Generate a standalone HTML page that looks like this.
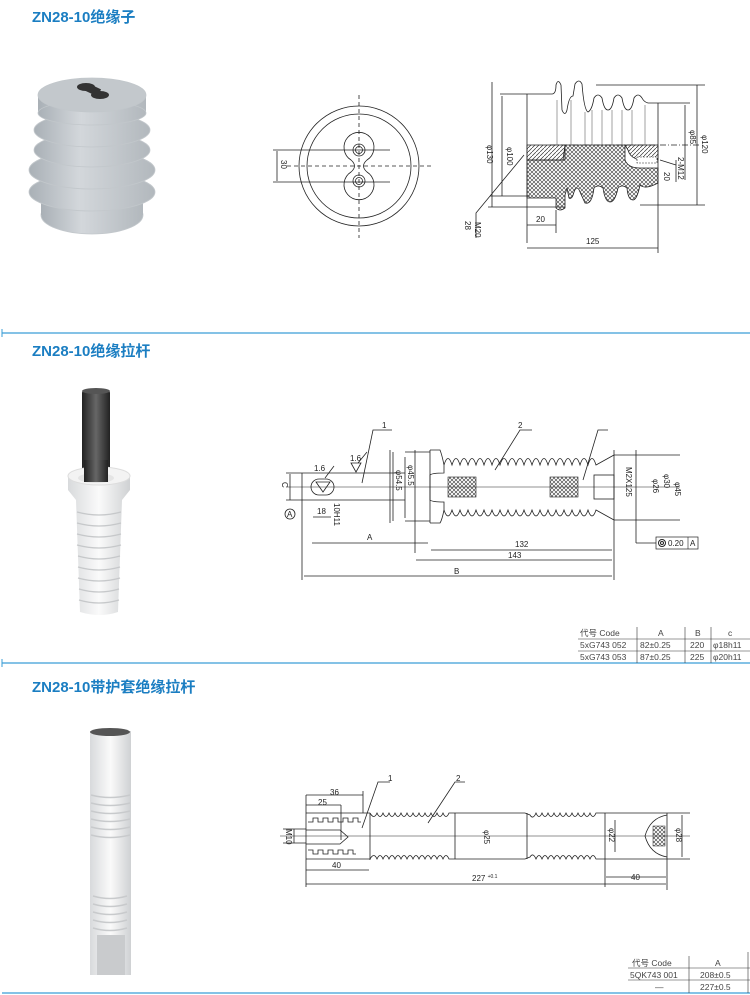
<!DOCTYPE html>
<html><head><meta charset="utf-8"><style>
html,body{margin:0;padding:0;background:#fff;}
svg{display:block;}
.t{font-family:"Liberation Sans","Noto Sans CJK SC",sans-serif;font-weight:bold;fill:#1b7ec2;font-size:15px;}
.d{font-family:"Liberation Sans",sans-serif;font-size:8px;fill:#222;}
.k{stroke:#222;stroke-width:0.8;fill:none;}
</style></head><body>
<svg width="750" height="995" viewBox="0 0 750 995" xmlns="http://www.w3.org/2000/svg">
<defs>
<pattern id="x" width="4" height="4" patternUnits="userSpaceOnUse"><path d="M0 0L4 4M4 0L0 4" stroke="#333" stroke-width="0.6"/></pattern>
<pattern id="h" width="4" height="4" patternUnits="userSpaceOnUse"><path d="M0 4L4 0" stroke="#333" stroke-width="0.7"/></pattern>
<linearGradient id="g1" x1="0" x2="1"><stop offset="0" stop-color="#a9b0b6"/><stop offset="0.4" stop-color="#d3d7db"/><stop offset="1" stop-color="#b2b8bd"/></linearGradient>
<linearGradient id="g2" x1="0" x2="1"><stop offset="0" stop-color="#d8dadc"/><stop offset="0.5" stop-color="#fafafa"/><stop offset="1" stop-color="#cfd1d3"/></linearGradient>
<linearGradient id="g3" x1="0" x2="1"><stop offset="0" stop-color="#222"/><stop offset="0.5" stop-color="#666"/><stop offset="1" stop-color="#222"/></linearGradient>
</defs>

<text class="t" x="32" y="22">ZN28-10绝缘子</text>
<text class="t" x="32" y="356">ZN28-10绝缘拉杆</text>
<text class="t" x="32" y="692">ZN28-10带护套绝缘拉杆</text>
<line x1="2" y1="333" x2="750" y2="333" stroke="#3a9dd6" stroke-width="1.2"/>
<line x1="2" y1="663" x2="750" y2="663" stroke="#3a9dd6" stroke-width="1.2"/>
<line x1="2" y1="993" x2="750" y2="993" stroke="#3a9dd6" stroke-width="1.2"/>
<line x1="2" y1="329" x2="2" y2="337" stroke="#3a9dd6"/><line x1="2" y1="659" x2="2" y2="667" stroke="#3a9dd6"/>

<!-- photo 1 insulator -->
<g fill="url(#g1)" stroke="#c2c7cb" stroke-width="0.8">
<ellipse cx="92" cy="215" rx="51" ry="19"/>
<rect x="41" y="200" width="102" height="15" stroke="none"/>
<ellipse cx="92" cy="192" rx="63" ry="19"/>
<ellipse cx="92" cy="170" rx="63" ry="19"/>
<ellipse cx="92" cy="150" rx="58" ry="17"/>
<ellipse cx="92" cy="130" rx="58" ry="17"/>
<rect x="38" y="95" width="108" height="18" stroke="none"/>
<ellipse cx="92" cy="113" rx="54" ry="12"/>
<ellipse cx="92" cy="95" rx="54" ry="17" fill="#c3c8cc"/>
</g>
<ellipse cx="86" cy="87" rx="9" ry="4" fill="#333"/><ellipse cx="100" cy="95" rx="9" ry="4" fill="#333"/>
<rect x="86" y="86" width="14" height="8" fill="#333" transform="rotate(25 93 90)"/>

<g class="k">
<circle cx="359" cy="166" r="60"/><circle cx="359" cy="166" r="52"/>
<path d="M351 160 A15 15 0 1 1 367 160 Q360 166 367 172 A15 15 0 1 1 351 172 Q358 166 351 160Z"/>
<circle cx="359" cy="150" r="6"/><circle cx="359" cy="150" r="3.5"/>
<circle cx="359" cy="181" r="6"/><circle cx="359" cy="181" r="3.5"/>
<line x1="359" y1="95" x2="359" y2="238" stroke-dasharray="4 3"/>
<line x1="287" y1="166" x2="432" y2="166" stroke-dasharray="4 3"/>
<line x1="273" y1="150" x2="390" y2="150"/><line x1="273" y1="182" x2="390" y2="182"/>
<line x1="277" y1="151" x2="277" y2="181"/>
</g>
<text class="d" transform="translate(281,160) rotate(90)">30</text>

<g class="k">
<path d="M500 94 L552 94 Q556 94 556 85 Q558 78 561 85 L562 110 Q565 117 567 110 Q569 96 573 96 L575 84 Q579 78 582 84 Q584 110 588 112 Q592 110 594 98 Q598 92 602 98 Q604 110 608 110 Q612 110 614 98 Q618 92 622 98 Q624 110 628 110 Q632 110 634 98 Q638 92 642 98 Q644 102 648 103 L690 103"/>
<path d="M596 85 L705 85"/>
<line x1="527" y1="94" x2="527" y2="243"/><line x1="658" y1="103" x2="658" y2="253"/>
<line x1="550" y1="145" x2="700" y2="145" stroke-dasharray="6 2 1 2"/>
<line x1="490" y1="196" x2="530" y2="196"/><line x1="502" y1="96" x2="502" y2="196"/>
<line x1="492" y1="82" x2="492" y2="207"/><line x1="488" y1="207" x2="565" y2="207"/>
<line x1="697" y1="85" x2="697" y2="205"/><line x1="685" y1="105" x2="685" y2="180"/>
<line x1="640" y1="205" x2="705" y2="205"/>
<line x1="527" y1="248" x2="658" y2="248"/><line x1="527" y1="225" x2="556" y2="225"/>
<line x1="556" y1="210" x2="556" y2="233"/>
<path d="M524 155 L476 213 L476 238"/>
<line x1="660" y1="160" x2="676" y2="165"/>
<line x1="676" y1="160" x2="676" y2="182"/>
</g>
<g stroke="#444" stroke-width="0.5">
<line x1="557" y1="100" x2="557" y2="145"/><line x1="571" y1="100" x2="571" y2="145"/><line x1="585" y1="112" x2="585" y2="145"/>
<line x1="592" y1="110" x2="592" y2="145"/><line x1="602" y1="110" x2="602" y2="145"/><line x1="612" y1="110" x2="612" y2="145"/><line x1="622" y1="110" x2="622" y2="145"/><line x1="632" y1="110" x2="632" y2="145"/><line x1="645" y1="105" x2="645" y2="145"/>
</g>
<path d="M527 145 L565 145 L565 160 L527 160Z" fill="url(#h)" stroke="#222" stroke-width="0.8"/>
<path d="M527 160 L563 160 L565 145 L625 145 L625 160 Q628 168 640 168 L658 168 L658 183 Q645 190 640 185 Q637 200 633 200 Q628 200 627 188 Q622 184 618 188 Q615 202 610 202 Q605 202 603 188 Q598 184 594 188 Q592 205 585 203 L580 192 Q577 184 574 192 Q572 200 569 198 L567 188 L565 195 L565 208 Q560 212 556 208 L556 198 L527 198Z" fill="url(#x)" stroke="#222" stroke-width="0.8"/>
<path d="M625 145 L658 145 L658 160 L640 160 Q630 158 628 150Z" fill="url(#h)" stroke="#222" stroke-width="0.8"/>
<rect x="637" y="157" width="20" height="6" fill="#fff" stroke="#222" stroke-width="0.6" stroke-dasharray="2 1"/>
<text class="d" transform="translate(487,145) rotate(90)">φ130</text>
<text class="d" transform="translate(507,147) rotate(90)">φ100</text>
<text class="d" transform="translate(690,130) rotate(90)">φ85</text>
<text class="d" transform="translate(702,135) rotate(90)">φ120</text>
<text class="d" transform="translate(678,157) rotate(90)">2-M12</text>
<text class="d" transform="translate(664,172) rotate(90)">20</text>
<text class="d" transform="translate(475,222) rotate(90)">M20</text>
<text class="d" transform="translate(465,221) rotate(90)">28</text>
<text class="d" x="536" y="222">20</text>
<text class="d" x="586" y="244">125</text>

<rect x="82" y="390" width="28" height="100" rx="3" fill="url(#g3)"/>
<ellipse cx="96" cy="391" rx="14" ry="3" fill="#555"/>
<path d="M68 475 L130 475 L130 490 L122 500 L118 612 Q100 618 80 612 L76 500 L68 490Z" fill="url(#g2)"/>
<ellipse cx="99" cy="476" rx="31" ry="9" fill="#f3f3f3" stroke="#ddd"/>
<ellipse cx="96" cy="478" rx="18" ry="5" fill="#e4e4e4"/>
<rect x="84" y="460" width="24" height="22" fill="url(#g3)"/>
<g stroke="#c6c8ca" stroke-width="1.2" fill="none">
<path d="M77 512 Q99 518 121 512"/><path d="M77 523 Q99 529 121 523"/><path d="M77 534 Q99 540 121 534"/><path d="M77 545 Q99 551 121 545"/><path d="M78 556 Q99 562 120 556"/><path d="M78 567 Q99 573 120 567"/><path d="M78 578 Q99 584 120 578"/><path d="M79 589 Q99 595 119 589"/><path d="M79 600 Q99 606 119 600"/>
</g>

<g class="k">
<line x1="286" y1="473" x2="405" y2="473"/><line x1="286" y1="500" x2="405" y2="500"/>
<line x1="286" y1="487" x2="680" y2="487" stroke-width="0.5"/>
<line x1="302" y1="473" x2="302" y2="580"/>
<rect x="311" y="479" width="23" height="16" rx="8"/>
<line x1="390" y1="450" x2="390" y2="523"/><line x1="415" y1="450" x2="415" y2="553"/>
<line x1="430" y1="450" x2="430" y2="523"/><line x1="405" y1="452" x2="430" y2="452"/><line x1="405" y1="521" x2="430" y2="521"/>
<line x1="393" y1="452" x2="393" y2="521"/><line x1="405" y1="457" x2="405" y2="518"/>
<path d="M430 450 L440 450 Q442 455 444 465 L444 473 Q432 473 430 475 L430 500 Q432 502 444 502 L444 510 Q442 520 440 523 L430 523"/>
<path d="M444 465 Q448 452 452 465 Q456 452 460 465 Q464 452 468 465 Q472 452 476 465 Q480 452 484 465 Q488 452 492 465 Q496 452 500 465 Q504 452 508 465 Q512 452 516 465 Q520 452 524 465 Q528 452 532 465 Q536 452 540 465 Q544 452 548 465 Q552 452 556 465 Q560 452 564 465 Q568 452 572 465 Q576 452 580 465 Q584 452 588 465 Q592 452 596 465 L614 455"/>
<path d="M444 510 Q448 522 452 510 Q456 522 460 510 Q464 522 468 510 Q472 522 476 510 Q480 522 484 510 Q488 522 492 510 Q496 522 500 510 Q504 522 508 510 Q512 522 516 510 Q520 522 524 510 Q528 522 532 510 Q536 522 540 510 Q544 522 548 510 Q552 522 556 510 Q560 522 564 510 Q568 522 572 510 Q576 522 580 510 Q584 522 588 510 Q592 522 596 510 L614 520"/>
<line x1="614" y1="450" x2="614" y2="580"/><line x1="614" y1="455" x2="680" y2="455"/><line x1="614" y1="520" x2="680" y2="520"/>
<rect x="594" y="475" width="20" height="24"/>
<line x1="636" y1="450" x2="636" y2="543"/><line x1="636" y1="543" x2="656" y2="543"/>
<line x1="312" y1="543" x2="428" y2="543"/><line x1="431" y1="550" x2="612" y2="550"/>
<line x1="416" y1="560" x2="612" y2="560"/><line x1="304" y1="576" x2="612" y2="576"/>
<line x1="313" y1="517" x2="331" y2="517"/><line x1="290" y1="474" x2="290" y2="500"/>
<path d="M362 483 L373 430 L392 430"/><path d="M495 470 L520 430 L532 430"/><path d="M583 480 L598 430 L608 430"/>
<path d="M316 482 L323 492 L330 482Z"/><path d="M351 463 L356 472 L361 463Z M358 463 L367 452"/>
<line x1="325" y1="478" x2="334" y2="466"/>
<circle cx="290" cy="514" r="5"/>
</g>
<g fill="url(#x)" stroke="#222" stroke-width="0.6">
<rect x="448" y="477" width="28" height="20"/><rect x="550" y="477" width="28" height="20"/>
</g>
<rect x="656" y="537" width="42" height="12" fill="#fff" stroke="#222" stroke-width="0.7"/>
<circle cx="662" cy="543" r="3.5" fill="none" stroke="#222"/><circle cx="662" cy="543" r="1.5" fill="none" stroke="#222"/>
<text class="d" x="668" y="546">0.20</text><line x1="688" y1="537" x2="688" y2="549" stroke="#222" stroke-width="0.6"/><text class="d" x="690" y="546">A</text>
<text class="d" x="382" y="428">1</text><text class="d" x="518" y="428">2</text><text class="d" x="314" y="471">1.6</text><text class="d" x="350" y="461">1.6</text>
<text class="d" x="287" y="517">A</text><text class="d" transform="translate(282,482) rotate(90)">C</text>
<text class="d" x="317" y="514">18</text><text class="d" transform="translate(334,503) rotate(90)">10H11</text>
<text class="d" transform="translate(396,470) rotate(90)">φ54.5</text><text class="d" transform="translate(408,465) rotate(90)">φ45.5</text>
<text class="d" transform="translate(626,467) rotate(90)">M2X125</text><text class="d" transform="translate(653,479) rotate(90)">φ26</text>
<text class="d" transform="translate(664,474) rotate(90)">φ30</text><text class="d" transform="translate(675,482) rotate(90)">φ45</text>
<text class="d" x="367" y="540">A</text><text class="d" x="515" y="547">132</text><text class="d" x="508" y="558">143</text><text class="d" x="454" y="574">B</text>
<g stroke="#333" stroke-width="0.6" fill="none">
<line x1="578" y1="639" x2="750" y2="639"/><line x1="578" y1="651" x2="750" y2="651"/>
<line x1="637" y1="627" x2="637" y2="663"/><line x1="685" y1="627" x2="685" y2="663"/><line x1="711" y1="627" x2="711" y2="663"/>
</g>
<g class="d" style="font-size:8.5px;fill:#444">
<text x="580" y="636">代号 Code</text><text x="658" y="636">A</text><text x="695" y="636">B</text><text x="728" y="636">c</text>
<text x="580" y="648">5xG743 052</text><text x="640" y="648">82±0.25</text><text x="690" y="648">220</text><text x="713" y="648">φ18h11</text>
<text x="580" y="660">5xG743 053</text><text x="640" y="660">87±0.25</text><text x="690" y="660">225</text><text x="713" y="660">φ20h11</text>
</g>

<rect x="90" y="731" width="41" height="244" fill="url(#g2)"/>
<rect x="97" y="935" width="28" height="40" fill="#c9cbcd"/>
<ellipse cx="110" cy="732" rx="20" ry="4" fill="#555"/>
<g stroke="#c8cacc" stroke-width="1.5" fill="none">
<path d="M91 795 Q110 800 130 795"/><path d="M91 803 Q110 808 130 803"/><path d="M91 811 Q110 816 130 811"/><path d="M91 819 Q110 824 130 819"/><path d="M91 827 Q110 832 130 827"/><path d="M91 835 Q110 840 130 835"/>
<path d="M93 896 Q110 901 127 896"/><path d="M93 904 Q110 909 127 904"/><path d="M93 912 Q110 917 127 912"/><path d="M93 920 Q110 925 127 920"/><path d="M93 928 Q110 933 127 928"/>
</g>

<g class="k">
<line x1="306" y1="795" x2="306" y2="887"/><line x1="306" y1="813" x2="370" y2="813"/><line x1="306" y1="859" x2="370" y2="859"/>
<path d="M308 822 h5 v-4 h5 v4 h5 v-4 h5 v4 h5 v-4 h5 v4 h5 v-4 h5 v4 h5 v-4 h5 v4 h3"/>
<path d="M308 850 h5 v4 h5 v-4 h5 v4 h5 v-4 h5 v4 h5 v-4 h5 v4 h5 v-4 h5 v4 h3"/>
<path d="M306 830 L340 830 L348 837 L340 844 L306 844"/>
<line x1="370" y1="813" x2="370" y2="860"/>
<path d="M370 813 Q374 820 377 813 Q380 820 383 813 Q386 820 389 813 Q392 820 395 813 Q398 820 401 813 Q404 820 407 813 Q410 820 413 813 Q416 820 419 813 Q422 820 425 813 Q428 820 431 813 Q434 820 437 813 Q440 820 443 813 Q446 820 449 813 L455 813 L525 813 L530 815 Q533 820 536 813 Q539 820 542 813 Q545 820 548 813 Q551 820 554 813 Q557 820 560 813 Q563 820 566 813 Q569 820 572 813 Q575 820 578 813 Q581 820 584 813 Q587 820 590 813 Q593 820 596 813 L605 813 L690 813"/>
<path d="M370 859 Q374 852 377 859 Q380 852 383 859 Q386 852 389 859 Q392 852 395 859 Q398 852 401 859 Q404 852 407 859 Q410 852 413 859 Q416 852 419 859 Q422 852 425 859 Q428 852 431 859 Q434 852 437 859 Q440 852 443 859 Q446 852 449 859 L455 859 L525 859 L530 857 Q533 852 536 859 Q539 852 542 859 Q545 852 548 859 Q551 852 554 859 Q557 852 560 859 Q563 852 566 859 Q569 852 572 859 Q575 852 578 859 Q581 852 584 859 Q587 852 590 859 Q593 852 596 859 L605 859 L690 859"/>
<line x1="455" y1="813" x2="455" y2="859"/><line x1="527" y1="813" x2="527" y2="859"/><line x1="605" y1="813" x2="605" y2="887"/>
<line x1="667" y1="813" x2="667" y2="890"/>
<path d="M667 815 Q650 818 645 836 Q650 854 667 857"/>
<line x1="280" y1="836" x2="690" y2="836" stroke-width="0.5"/>
<line x1="306" y1="795" x2="363" y2="795"/><line x1="306" y1="805" x2="341" y2="805"/><line x1="363" y1="791" x2="363" y2="813"/>
<line x1="341" y1="805" x2="341" y2="840"/>
<line x1="306" y1="870" x2="369" y2="870"/><line x1="306" y1="884" x2="666" y2="884"/><line x1="606" y1="877" x2="666" y2="877"/>
<line x1="283" y1="829" x2="306" y2="829"/><line x1="283" y1="843" x2="306" y2="843"/><line x1="294" y1="829" x2="294" y2="843"/>
<line x1="615" y1="820" x2="615" y2="852"/><line x1="682" y1="815" x2="682" y2="857"/>
<path d="M362 828 L378 782 L390 782"/><path d="M428 823 L455 782 L465 782"/>
</g>
<rect x="653" y="826" width="12" height="20" fill="url(#x)" stroke="#222" stroke-width="0.5"/>
<text class="d" x="330" y="795">36</text><text class="d" x="318" y="805">25</text><text class="d" x="388" y="781">1</text><text class="d" x="456" y="781">2</text>
<text class="d" transform="translate(286,829) rotate(90)">M10</text><text class="d" x="332" y="868">40</text>
<text class="d" transform="translate(484,830) rotate(90)">φ25</text><text class="d" transform="translate(609,828) rotate(90)">φ22</text><text class="d" transform="translate(676,828) rotate(90)">φ28</text>
<text class="d" x="472" y="881">227 <tspan font-size="5" dy="-3">+0.1</tspan></text><text class="d" x="631" y="880">40</text>
<g stroke="#333" stroke-width="0.6"><line x1="628" y1="968" x2="750" y2="968"/><line x1="628" y1="980" x2="750" y2="980"/><line x1="689" y1="956" x2="689" y2="993"/><line x1="748" y1="952" x2="748" y2="993"/></g>
<g class="d" style="font-size:8.5px;fill:#444">
<text x="632" y="966">代号 Code</text><text x="715" y="966">A</text>
<text x="630" y="978">5QK743 001</text><text x="700" y="978">208±0.5</text>
<text x="655" y="990">—</text><text x="700" y="990">227±0.5</text>
</g>
</svg>
</body></html>
